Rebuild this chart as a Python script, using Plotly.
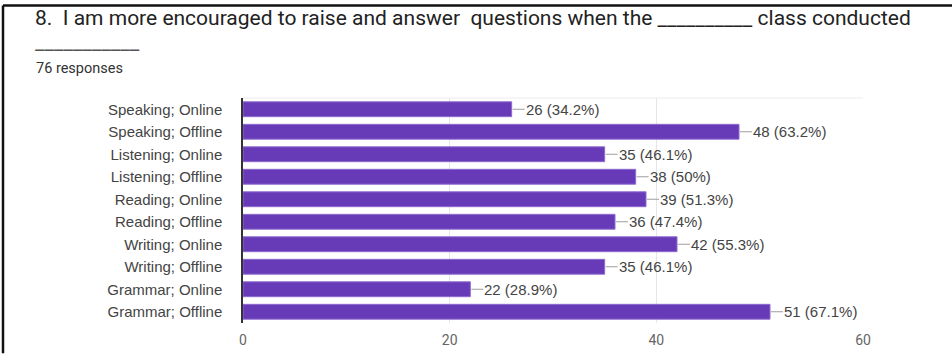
import plotly.graph_objects as go

# Survey question 8 responses
categories = [
    "Speaking; Online", "Speaking; Offline",
    "Listening; Online", "Listening; Offline",
    "Reading; Online", "Reading; Offline",
    "Writing; Online", "Writing; Offline",
    "Grammar; Online", "Grammar; Offline",
]
counts = [26, 48, 35, 38, 39, 36, 42, 35, 22, 51]
total_responses = 76
x_ticks = [0, 20, 40, 60]

question_line1 = ("8.  I am more encouraged to raise and answer  questions when the "
                  "__________ class conducted")
question_line2 = "___________"

W, H = 952, 360
ML, MR, MT, MB = 243, 89, 98, 31
PW, PH = W - ML - MR, H - MT - MB


def px_to_paper_x(px):
    return (px - ML) / PW


def px_to_paper_y(py):
    return (H - MB - py) / PH


def pct_label(v):
    p = round(v / total_responses * 100, 1)
    s = f"{p:.1f}".rstrip("0").rstrip(".")
    return f"{v} ({s}%)"


PURPLE = "#673ab7"
LABEL_FONT = "Liberation Sans, Arial"

fig = go.Figure(go.Bar(
    x=counts, y=categories, orientation="h",
    marker=dict(color=PURPLE, line=dict(color="#8e6bd0", width=1)),
    hoverinfo="skip",
))

shapes = []
annotations = []
for cat, v in zip(categories, counts):
    # leader line from bar end to its value label
    shapes.append(dict(
        type="line", xref="x", yref="y", xsizemode="pixel",
        xanchor=v, x0=1, x1=13, y0=cat, y1=cat,
        line=dict(color="#9e9e9e", width=1),
    ))
    annotations.append(dict(
        x=v, y=cat, xref="x", yref="y", text=pct_label(v),
        showarrow=False, xanchor="left", yanchor="middle", xshift=12,
        font=dict(family=LABEL_FONT, size=15, color="#444444"),
    ))

# question text and response count
annotations.append(dict(
    x=px_to_paper_x(33), y=px_to_paper_y(16), xref="paper", yref="paper",
    text=question_line1, showarrow=False, xanchor="left", yanchor="middle",
    font=dict(family="Roboto", size=21, color="#222222"),
))
annotations.append(dict(
    x=px_to_paper_x(33), y=px_to_paper_y(40), xref="paper", yref="paper",
    text=question_line2, showarrow=False, xanchor="left", yanchor="middle",
    font=dict(family="Roboto", size=21, color="#555555"),
))
annotations.append(dict(
    x=px_to_paper_x(34), y=px_to_paper_y(68), xref="paper", yref="paper",
    text="76 responses", showarrow=False, xanchor="left", yanchor="middle",
    font=dict(family="Roboto", size=14.5, color="#333333"),
))

# frame lines along the top and left edges
shapes.append(dict(type="line", xref="paper", yref="paper",
                   x0=px_to_paper_x(3), x1=px_to_paper_x(952),
                   y0=px_to_paper_y(3), y1=px_to_paper_y(3),
                   line=dict(color="#111111", width=2.5)))
shapes.append(dict(type="line", xref="paper", yref="paper",
                   x0=px_to_paper_x(3), x1=px_to_paper_x(3),
                   y0=px_to_paper_y(3), y1=px_to_paper_y(360),
                   line=dict(color="#111111", width=2.5)))
# faint top border of the plot area
shapes.append(dict(type="line", xref="paper", yref="paper",
                   x0=0, x1=1, y0=1, y1=1,
                   line=dict(color="#ececec", width=1)))

fig.update_layout(
    width=W, height=H,
    margin=dict(l=ML, r=MR, t=MT, b=MB, pad=0),
    paper_bgcolor="white", plot_bgcolor="white",
    bargap=0.34,
    showlegend=False,
    xaxis=dict(
        range=[0, 60], tickvals=x_ticks, showgrid=True,
        gridcolor="#e6e6e6", gridwidth=1, zeroline=False,
        showline=False, ticks="", ticklabelstandoff=7,
        tickfont=dict(family="Roboto", size=14, color="#666666"),
        fixedrange=True,
    ),
    yaxis=dict(
        autorange="reversed", showgrid=False, zeroline=False,
        showline=True, linecolor="#333333", linewidth=1.5,
        ticks="", ticklabelstandoff=16,
        tickfont=dict(family=LABEL_FONT, size=15, color="#444444"),
        fixedrange=True,
    ),
    shapes=shapes,
    annotations=annotations,
)

fig.write_html("out.html")
